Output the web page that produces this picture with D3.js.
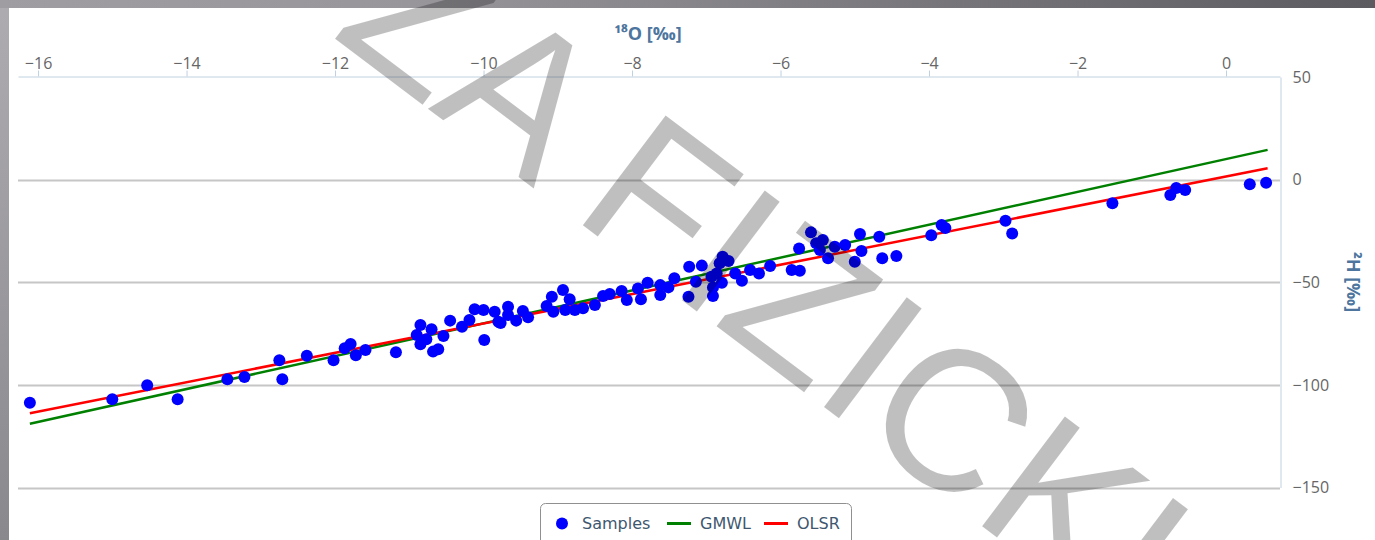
<!DOCTYPE html>
<html>
<head>
<meta charset="utf-8">
<script src="https://cdn.jsdelivr.net/npm/d3@7"></script>
<style>
  html, body { margin: 0; padding: 0; background: #fff; overflow: hidden; }
  svg { display: block; }
</style>
</head>
<body>
<script>
// Sample isotope values
var d18O = [-16.11, -15.00, -14.53, -14.12, -13.45, -13.22, -12.75, -12.71, -12.38, -12.02,
            -11.87, -11.79, -11.72, -11.59, -11.18, -10.90, -10.85, -10.85, -10.77, -10.70,
            -10.68, -10.61, -10.54, -10.45, -10.29, -10.19, -10.12, -10.00, -9.99, -9.85,
            -9.80, -9.77, -9.67, -9.67, -9.56, -9.47, -9.40, -9.15, -9.08, -9.06,
            -8.93, -8.90, -8.84, -8.77, -8.66, -8.50, -8.39, -8.30, -8.14, -8.07,
            -7.92, -7.88, -7.79, -7.62, -7.62, -7.51, -7.43, -7.24, -7.23, -7.14,
            -7.06, -6.93, -6.91, -6.91, -6.86, -6.82, -6.79, -6.78, -6.70, -6.61,
            -6.52, -6.41, -6.29, -6.14, -5.85, -5.74, -5.75, -5.59, -5.52, -5.43,
            -5.47, -5.36, -5.27, -5.13, -5.00, -4.93, -4.91, -4.67, -4.63, -4.44,
            -3.97, -3.83, -3.78, -2.97, -2.88, -1.53, -0.75, -0.67, -0.55, 0.32, 0.54];
var d2H = [-108.7, -107.0, -100.2, -107.0, -97.3, -96.2, -88.0, -97.3, -85.8, -88.0,
           -82.2, -80.1, -85.6, -83.0, -84.1, -75.7, -70.8, -80.2, -77.8, -72.9,
           -83.8, -82.7, -76.2, -68.7, -71.7, -68.4, -63.2, -63.5, -78.1, -64.4,
           -69.2, -69.9, -61.9, -66.0, -68.7, -64.0, -67.1, -61.6, -57.1, -64.4,
           -53.8, -63.5, -58.3, -63.5, -62.7, -61.1, -56.7, -55.7, -54.3, -58.7,
           -53.0, -58.3, -50.2, -51.4, -56.2, -52.5, -48.1, -57.1, -42.4, -49.7,
           -41.9, -47.3, -56.7, -52.5, -45.7, -40.8, -50.2, -37.6, -39.7, -45.7,
           -49.3, -44.0, -45.7, -42.1, -44.0, -44.4, -33.5, -25.7, -31.0, -29.4,
           -34.3, -38.3, -32.7, -31.9, -40.0, -26.5, -34.8, -27.8, -38.3, -37.2,
           -27.1, -22.1, -23.6, -20.0, -26.2, -11.5, -7.5, -4.1, -5.1, -2.3, -1.5];

// Line end points (global meteoric water line and ordinary least squares fit)
var gmwl = [[-16.11, -118.9], [0.56, 14.5]];
var olsr = [[-16.11, -113.8], [0.56, 5.5]];

var xTicks = [-16, -14, -12, -10, -8, -6, -4, -2, 0];
var yTicks = [-150, -100, -50, 0, 50];
var legendItems = ["Samples", "GMWL", "OLSR"];

var width = 1375, height = 540;

var svg = d3.select("body").append("svg")
    .attr("width", width)
    .attr("height", height);

var defs = svg.append("defs");
var topGrad = defs.append("linearGradient").attr("id", "topGrad");
topGrad.append("stop").attr("offset", "0%").attr("stop-color", "#9f9da2");
topGrad.append("stop").attr("offset", "30%").attr("stop-color", "#98969b");
topGrad.append("stop").attr("offset", "100%").attr("stop-color", "#5c5b60");
var leftGrad = defs.append("linearGradient").attr("id", "leftGrad")
    .attr("x1", 0).attr("y1", 0).attr("x2", 0).attr("y2", 1);
leftGrad.append("stop").attr("offset", "0%").attr("stop-color", "#aeacb1");
leftGrad.append("stop").attr("offset", "100%").attr("stop-color", "#89888d");

// window frame
svg.append("rect").attr("x", 0).attr("y", 0).attr("width", 9).attr("height", height).attr("fill", "url(#leftGrad)");
svg.append("rect").attr("x", 0).attr("y", 0).attr("width", width).attr("height", 8).attr("fill", "url(#topGrad)");

var x = d3.scaleLinear().domain([-16.27, 0.727]).range([18, 1280]);
var y = d3.scaleLinear().domain([-150, 50]).range([487.5, 77]);

// Horizontal grid
svg.append("g").selectAll("line")
    .data(yTicks.filter(function(d) { return d < 50; }))
    .enter().append("line")
    .attr("x1", 18).attr("x2", 1280)
    .attr("y1", function(d) { return Math.round(y(d)) + 0.5; })
    .attr("y2", function(d) { return Math.round(y(d)) + 0.5; })
    .attr("stroke", "#c6c6c6")
    .attr("stroke-width", 2);

// Top x axis
var xAxis = svg.append("g")
    .attr("transform", "translate(0,76.5)")
    .call(d3.axisTop(x).tickValues(xTicks).tickSizeInner(6).tickSizeOuter(0).tickPadding(2));
xAxis.select(".domain").attr("stroke", "#c0d0e0");
xAxis.selectAll(".tick line").attr("stroke", "#c0d0e0");
xAxis.selectAll("text")
    .attr("fill", "#666")
    .style("font-family", "'Open Sans', sans-serif")
    .style("font-size", "16px");

// Right y axis
var yAxis = svg.append("g")
    .attr("transform", "translate(1280.5,0)")
    .call(d3.axisRight(y).tickValues(yTicks).tickSize(0).tickPadding(12));
yAxis.select(".domain").attr("stroke", "#c0d0e0");
yAxis.selectAll("text")
    .attr("fill", "#666")
    .style("font-family", "'Open Sans', sans-serif")
    .style("font-size", "16px");

// Axis titles
svg.append("text")
    .attr("x", 648).attr("y", 40)
    .attr("text-anchor", "middle")
    .attr("fill", "#4d759e")
    .style("font-family", "'Open Sans', sans-serif")
    .style("font-size", "18px")
    .style("font-weight", "bold")
    .text("¹⁸O [‰]");

svg.append("text")
    .attr("transform", "translate(1347,282) rotate(90)")
    .attr("text-anchor", "middle")
    .attr("fill", "#4d759e")
    .style("font-family", "'Open Sans', sans-serif")
    .style("font-size", "18px")
    .style("font-weight", "bold")
    .text("²H [‰]");

// Lines
var line = d3.line()
    .x(function(d) { return x(d[0]); })
    .y(function(d) { return y(d[1]); });

svg.append("path").datum(gmwl)
    .attr("d", line).attr("fill", "none")
    .attr("stroke", "#008000").attr("stroke-width", 2.5);
svg.append("path").datum(olsr)
    .attr("d", line).attr("fill", "none")
    .attr("stroke", "#ff0000").attr("stroke-width", 2.5);

// Samples
svg.append("g").selectAll("circle")
    .data(d18O)
    .enter().append("circle")
    .attr("cx", function(d) { return x(d); })
    .attr("cy", function(d, i) { return y(d2H[i]); })
    .attr("r", 6)
    .attr("fill", "#0000ff");

// Legend
var legend = svg.append("g");
legend.append("rect")
    .attr("x", 540.5).attr("y", 503.5)
    .attr("width", 311).attr("height", 50)
    .attr("rx", 5)
    .attr("fill", "#fff")
    .attr("stroke", "#909090");

var legendX = [582, 700, 797];
var legendColors = ["#0000ff", "#008000", "#ff0000"];
legend.append("circle").attr("cx", 562).attr("cy", 523.5).attr("r", 6).attr("fill", legendColors[0]);
legend.append("line").attr("x1", 667).attr("x2", 691).attr("y1", 523.5).attr("y2", 523.5)
    .attr("stroke", legendColors[1]).attr("stroke-width", 3);
legend.append("line").attr("x1", 764).attr("x2", 788).attr("y1", 523.5).attr("y2", 523.5)
    .attr("stroke", legendColors[2]).attr("stroke-width", 3);
legend.selectAll("text.item")
    .data(legendItems)
    .enter().append("text")
    .attr("class", "item")
    .attr("x", function(d, i) { return legendX[i]; })
    .attr("y", 529)
    .attr("fill", "#3e576f")
    .style("font-family", "'DejaVu Sans', sans-serif")
    .style("font-size", "16px")
    .text(function(d) { return d; });

// Watermark on top of everything
svg.append("text")
    .attr("transform", "translate(330,35) rotate(37)")
    .attr("fill", "#000")
    .attr("fill-opacity", 0.25)
    .style("font-family", "'Liberation Sans', Arial, sans-serif")
    .style("font-size", "200px")
    .text("ZA FIZICKI");
</script>
</body>
</html>
